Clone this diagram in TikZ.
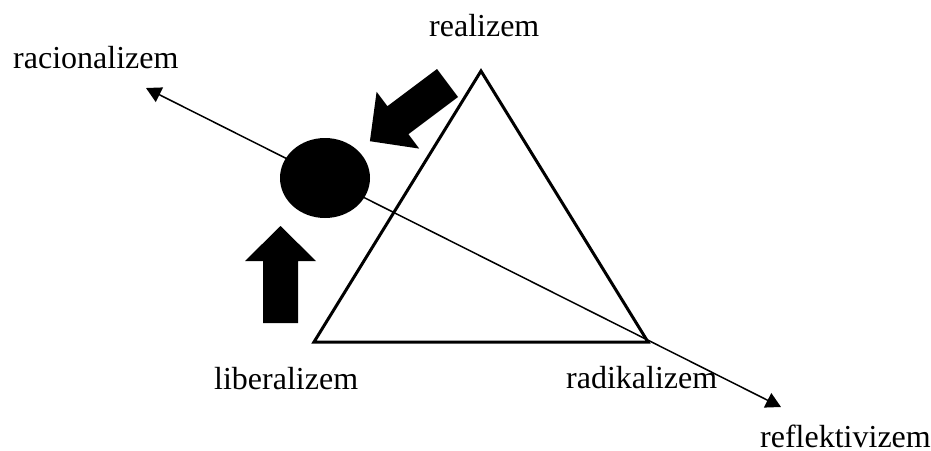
\documentclass[tikz,border=0pt]{standalone}
\usepackage{fontspec}
\setmainfont{Liberation Serif}
\usetikzlibrary{arrows.meta}
\begin{document}
\begin{tikzpicture}[x=1pt,y=-1pt,
  lbl/.style={anchor=base west,inner sep=0pt,font=\fontsize{32}{38}\selectfont},
  axisline/.style={line width=1.5pt,{Triangle[length=15pt,width=16pt]}-{Triangle[length=15pt,width=16pt]}},
  tri/.style={line width=3pt,line join=miter},
  blk/.style={fill=black,draw=none}]
\useasboundingbox (0,0) rectangle (931,450);
% axis line
\coordinate (ra) at (146,88);
\coordinate (re) at (781,407);
\draw[axisline] (ra) -- (re);
% triangle
\coordinate (top) at (481,71);
\coordinate (bl) at (314,342);
\coordinate (br) at (648,342);
\draw[tri] (top) -- (bl) -- (br) -- cycle;
% ellipse
\fill[blk] (325,178) ellipse [x radius=45, y radius=40];
% up block arrow
\fill[blk] (263,323) -- (263,261) -- (245,261) -- (280.5,226) -- (316,261) -- (298,261) -- (298,323) -- cycle;
% diagonal block arrow
\fill[blk] (437,69) -- (387.4,106.2) -- (376.6,91.8) -- (369.9,141.2) -- (419.2,148.6) -- (408.4,134.2) -- (458,97) -- cycle;
% labels
\node[lbl] (realizem) at (429,36) {realizem};
\node[lbl] (racionalizem) at (13,68) {racionalizem};
\node[lbl] (liberalizem) at (214,389) {liberalizem};
\node[lbl] (radikalizem) at (566,388) {radikalizem};
\node[lbl] (reflektivizem) at (760,447) {reflektivizem};
\end{tikzpicture}
\end{document}
